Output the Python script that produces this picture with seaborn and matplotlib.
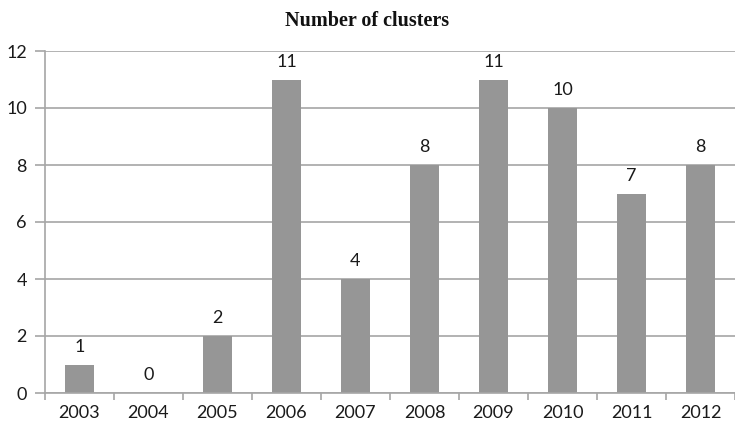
import matplotlib
matplotlib.use("Agg")
import matplotlib.pyplot as plt
import seaborn as sns
import pandas as pd
import numpy as np

years = ["2003", "2004", "2005", "2006", "2007", "2008", "2009", "2010", "2011", "2012"]
clusters = [1, 0, 2, 11, 4, 8, 11, 10, 7, 8]
y_ticks = [0, 2, 4, 6, 8, 10, 12]

sns.set_theme(style="white")
plt.rcParams["font.family"] = ["Lato", "DejaVu Sans"]

bar_color = "#969696"
line_color = "#a6a6a6"
text_color = "#1a1a1a"

df = pd.DataFrame({"year": years, "clusters": clusters})

fig = plt.figure(figsize=(7.35, 4.25), dpi=100)
ax = fig.add_axes([45 / 735, 32 / 425, 690 / 735, (393 - 51) / 425])

sns.barplot(data=df, x="year", y="clusters", color=bar_color, width=0.41,
            saturation=1, linewidth=0, edgecolor="none", ax=ax, zorder=3)

for p, v in zip(ax.patches, clusters):
    ax.text(p.get_x() + p.get_width() / 2, v + 0.35, str(v),
            ha="center", va="bottom", fontsize=13, color=text_color)

ax.set_ylim(0, 12)
ax.set_xlim(-0.5, len(years) - 0.5)
ax.set_yticks(y_ticks)
ax.set_yticklabels([str(t) for t in y_ticks])
ax.set_xlabel("")
ax.set_ylabel("")

ax.yaxis.grid(True, color=line_color, linewidth=1.2, zorder=0)
ax.set_axisbelow(True)

for s in ["top", "right"]:
    ax.spines[s].set_visible(False)
for s in ["left", "bottom"]:
    ax.spines[s].set_color(line_color)
    ax.spines[s].set_linewidth(1.2)
    ax.spines[s].set_zorder(4)

ax.tick_params(axis="x", which="major", length=0, pad=9, labelsize=13, labelcolor=text_color)
ax.set_xticks(np.arange(-0.5, len(years), 1.0), minor=True)
ax.tick_params(axis="x", which="minor", length=5, width=1.2, color=line_color, direction="out", bottom=True)
ax.tick_params(axis="y", length=7, width=1.2, color=line_color, direction="out", left=True,
               labelsize=13, labelcolor=text_color, pad=6)

fig.text(0.5, 1 - 21 / 425, "Number of clusters", ha="center", va="center",
         fontsize=14.5, fontweight="bold", family=["Liberation Serif", "DejaVu Serif"],
         color="#111111")

fig.savefig("out.png", dpi=100)
